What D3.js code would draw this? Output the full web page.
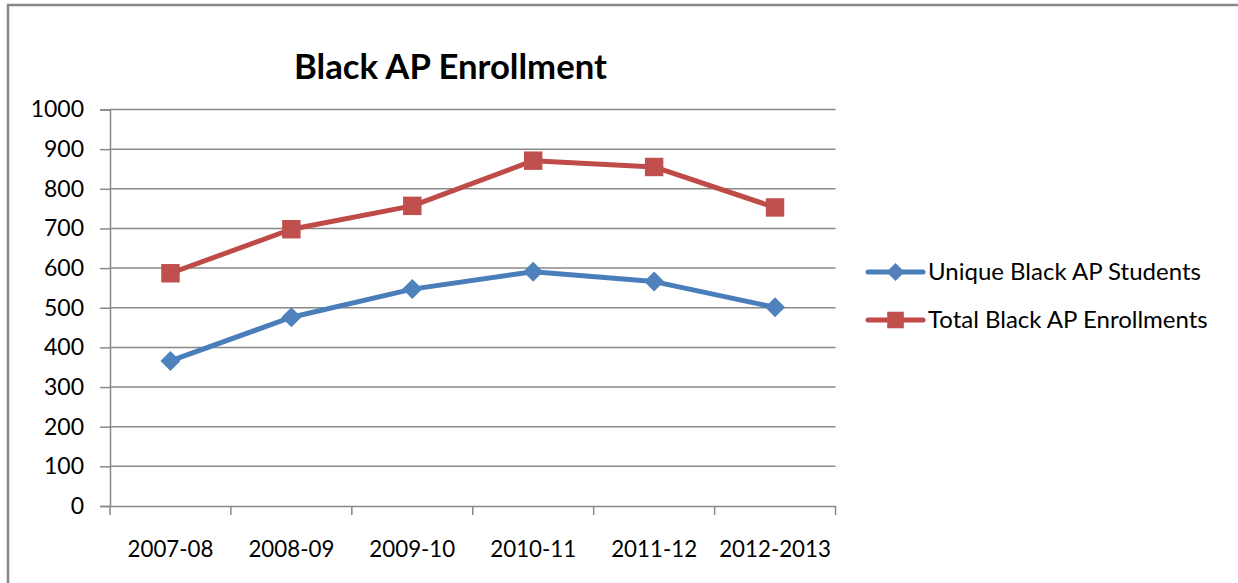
<!DOCTYPE html>
<html><head><meta charset="utf-8">
<script src="https://cdn.jsdelivr.net/npm/d3@7"></script>
<style>html,body{margin:0;padding:0;background:#fff;overflow:hidden}</style>
</head><body>
<svg id="c" width="1238" height="583"></svg>
<script>
const categories = ["2007-08","2008-09","2009-10","2010-11","2011-12","2012-2013"];
const uniqueStudents = [366, 476, 547, 591, 566, 501];
const totalEnrollments = [587, 698, 757, 871, 855, 753];
const yTicks = [0,100,200,300,400,500,600,700,800,900,1000];
const seriesNames = ["Unique Black AP Students","Total Black AP Enrollments"];
const title = "Black AP Enrollment";

(function(){
const svg = d3.select("#c");
const font = "Lato, 'Open Sans', sans-serif";
const grey = "#898989";

// outer border (extends off the right/bottom)
svg.append("rect").attr("x",8).attr("y",5).attr("width",1300).attr("height",700)
  .attr("fill","none").attr("stroke",grey).attr("stroke-width",2.5);

const pL=110, pR=835.5, pT=109.5, pB=506;
const x = d3.scaleBand().domain(categories).range([pL,pR]);
const y = d3.scaleLinear().domain([0,1000]).range([pB,pT]);

// gridlines
svg.append("g").selectAll("line").data(yTicks.filter(d=>d>0)).join("line")
  .attr("x1",pL).attr("x2",pR).attr("y1",d=>y(d)).attr("y2",d=>y(d))
  .attr("stroke",grey).attr("stroke-width",1.5);

// y axis
const ya = svg.append("g").attr("transform",`translate(${pL},0)`)
  .call(d3.axisLeft(y).tickValues(yTicks).tickSize(10).tickPadding(16).tickFormat(d3.format("d")));
ya.select(".domain").attr("stroke",grey).attr("stroke-width",1.5);
ya.selectAll(".tick line").attr("stroke",grey).attr("stroke-width",1.5);
ya.selectAll("text").attr("font-family",font).attr("font-size",23).attr("fill","#000");

// x axis
const xa = svg.append("g").attr("transform",`translate(0,${pB})`)
  .call(d3.axisBottom(x).tickSize(0).tickPadding(35).tickSizeOuter(0));
xa.select(".domain").attr("stroke",grey).attr("stroke-width",1.5);
xa.selectAll("text").attr("font-family",font).attr("font-size",22.3).attr("fill","#000");
// tick marks at band boundaries
const bounds = categories.map(c=>x(c)).concat([pR]);
svg.append("g").selectAll("line").data(bounds).join("line")
  .attr("x1",d=>d).attr("x2",d=>d).attr("y1",pB).attr("y2",pB+9)
  .attr("stroke",grey).attr("stroke-width",1.5);

const cx = c => x(c) + x.bandwidth()/2;
const line = d3.line().x(d=>cx(d.c)).y(d=>y(d.v));

const series = [
  {name:seriesNames[0], values:uniqueStudents, stroke:"#4a7ebb", fill:"#4f81bd", shape:"diamond"},
  {name:seriesNames[1], values:totalEnrollments, stroke:"#be4b48", fill:"#c0504d", shape:"square"}
];
const sym = {diamond: "M0,-10L10,0L0,10L-10,0Z", square: d3.symbol().type(d3.symbolSquare).size(340)()};

series.forEach(s=>{
  const pts = categories.map((c,i)=>({c, v:s.values[i]}));
  svg.append("path").datum(pts).attr("d",line).attr("fill","none")
    .attr("stroke",s.stroke).attr("stroke-width",5).attr("stroke-linejoin","round");
  svg.append("g").selectAll("path").data(pts).join("path")
    .attr("transform",d=>`translate(${cx(d.c)},${y(d.v)})`)
    .attr("d",sym[s.shape]).attr("fill",s.fill);
});

// title
svg.append("text").attr("x",450.5).attr("y",79).attr("text-anchor","middle")
  .attr("font-family",font).attr("font-weight","bold").attr("font-size",34.7)
  .attr("fill","#000").text(title);

// legend
const lg = svg.append("g");
series.forEach((s,i)=>{
  const ly = 272 + i*48;
  lg.append("line").attr("x1",868).attr("x2",923).attr("y1",ly).attr("y2",ly)
    .attr("stroke",s.stroke).attr("stroke-width",5).attr("stroke-linecap","round");
  lg.append("path").attr("transform",`translate(895.5,${ly})`).attr("d",sym[s.shape]).attr("fill",s.fill)
    .attr("transform",`translate(895.5,${ly}) scale(0.9)`);
  lg.append("text").attr("x",928).attr("y",ly+7.5).attr("font-family",font).attr("font-size",24)
    .attr("fill","#000").text(s.name);
});
})();
</script>
</body></html>
